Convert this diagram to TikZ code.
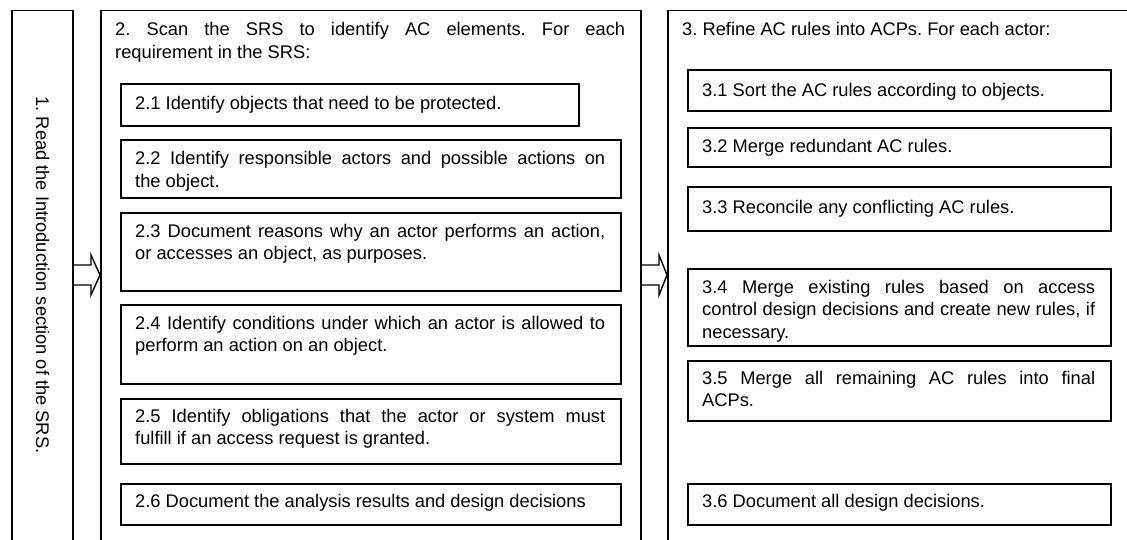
\documentclass[tikz,border=0pt]{standalone}
\usepackage{fontspec}
\setmainfont{Liberation Sans}
\usetikzlibrary{calc}
\newcommand\stepfont{\fontsize{18.3}{22.5}\selectfont\frenchspacing}
\tolerance=10000
\hyphenpenalty=10000
\begin{document}
\begin{tikzpicture}[x=1pt,y=-1pt,
  phase/.style={draw, line width=1.5pt, anchor=north west, inner sep=0pt},
  stepbox/.style={draw, line width=1.8pt, anchor=north west, inner sep=0pt},
  txt/.style={font=\stepfont, inner sep=0pt, anchor=base west, align=justify},
  blockarrow/.style={draw, line width=1.4pt, line join=miter}]
\useasboundingbox (0,0) rectangle (1127,540);
\clip (0,0) rectangle (1127,540);
\fill[white] (0,0) rectangle (1127,540);

% the three phases, open towards the bottom of the page
\node[phase, minimum width=61pt, minimum height=560pt] (s1) at (11,10) {};
\node[phase, minimum width=540pt, minimum height=560pt] (s2) at (100,10) {};
\node[phase, minimum width=500pt, minimum height=560pt] (s3) at (667,10) {};

% phase 1
\node[font=\stepfont, inner sep=0pt, rotate=-90] (t1) at ($(s1.north)+(0.5,265)$)
  {1. Read the Introduction section of the SRS.};

% phase 2
\node[txt, text width=510pt] (t2) at ($(s2.north west)+(15,26)$)
  {2. Scan the SRS to identify AC elements. For each\linebreak requirement in the SRS:};

\node[stepbox, minimum width=458pt, minimum height=42pt] (b21) at (120,83) {};
\node[stepbox, minimum width=500pt, minimum height=58pt] (b22) at (120,139) {};
\node[stepbox, minimum width=500pt, minimum height=78pt] (b23) at (120,212) {};
\node[stepbox, minimum width=500pt, minimum height=79pt] (b24) at (120,304) {};
\node[stepbox, minimum width=500pt, minimum height=65pt] (b25) at (120,398) {};
\node[stepbox, minimum width=500pt, minimum height=41pt] (b26) at (120,483) {};

\node[txt, text width=470pt] (t21) at ($(b21.north west)+(15,27)$)
  {2.1 Identify objects that need to be protected.};
\node[txt, text width=470pt] (t22) at ($(b22.north west)+(15,26)$)
  {2.2 Identify responsible actors and possible actions on\linebreak the object.};
\node[txt, text width=470pt] (t23) at ($(b23.north west)+(15,25)$)
  {2.3 Document reasons why an actor performs an action,\linebreak or accesses an object, as purposes.};
\node[txt, text width=470pt] (t24) at ($(b24.north west)+(15,25)$)
  {2.4 Identify conditions under which an actor is allowed to\linebreak perform an action on an object.};
\node[txt, text width=470pt] (t25) at ($(b25.north west)+(15,24)$)
  {2.5 Identify obligations that the actor or system must\linebreak fulfill if an access request is granted.};
\node[txt, text width=470pt] (t26) at ($(b26.north west)+(15,24)$)
  {2.6 Document the analysis results and design decisions};

% phase 3
\node[txt, text width=430pt] (t3) at ($(s3.north west)+(15,26)$)
  {3. Refine AC rules into ACPs. For each actor:};

\node[stepbox, minimum width=423pt, minimum height=41pt] (b31) at (687,69) {};
\node[stepbox, minimum width=423pt, minimum height=39pt] (b32) at (687,127) {};
\node[stepbox, minimum width=423pt, minimum height=44pt] (b33) at (687,186) {};
\node[stepbox, minimum width=423pt, minimum height=77pt] (b34) at (687,268) {};
\node[stepbox, minimum width=423pt, minimum height=60pt] (b35) at (687,360) {};
\node[stepbox, minimum width=423pt, minimum height=41pt] (b36) at (687,483) {};

\node[txt, text width=393pt] (t31) at ($(b31.north west)+(15,28)$)
  {3.1 Sort the AC rules according to objects.};
\node[txt, text width=393pt] (t32) at ($(b32.north west)+(15,26)$)
  {3.2 Merge redundant AC rules.};
\node[txt, text width=393pt] (t33) at ($(b33.north west)+(15,28)$)
  {3.3 Reconcile any conflicting AC rules.};
\node[txt, text width=393pt] (t34) at ($(b34.north west)+(15,25)$)
  {3.4 Merge existing rules based on access\linebreak control design decisions and create new rules, if\linebreak necessary.};
\node[txt, text width=393pt] (t35) at ($(b35.north west)+(15,24)$)
  {3.5 Merge all remaining AC rules into final\linebreak ACPs.};
\node[txt, text width=393pt] (t36) at ($(b36.north west)+(15,24)$)
  {3.6 Document all design decisions.};

% block arrows between the phases
\coordinate (a1s) at (s1.east |- 0,275);
\coordinate (a1e) at (s2.west |- 0,275);
\coordinate (a2s) at (s2.east |- 0,275);
\coordinate (a2e) at (s3.west |- 0,275);
\draw[blockarrow] ($(a1s)+(0,-10)$) -- ($(a1e)+(-9,-10)$) -- ($(a1e)+(-9,-20)$)
  -- (a1e) -- ($(a1e)+(-9,20)$) -- ($(a1e)+(-9,10)$) -- ($(a1s)+(0,10)$);
\draw[blockarrow] ($(a2s)+(0,-10)$) -- ($(a2e)+(-8,-10)$) -- ($(a2e)+(-8,-20)$)
  -- (a2e) -- ($(a2e)+(-8,20)$) -- ($(a2e)+(-8,10)$) -- ($(a2s)+(0,10)$);
\end{tikzpicture}
\end{document}
